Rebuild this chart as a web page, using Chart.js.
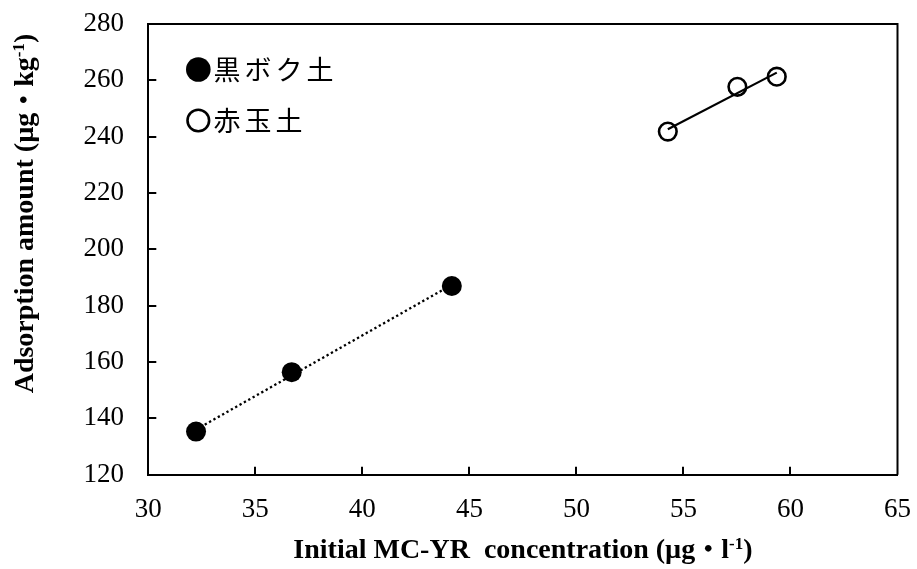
<!DOCTYPE html>
<html>
<head>
<meta charset="utf-8">
<script src="https://cdn.jsdelivr.net/npm/chart.js@4"></script>
<style>
  html, body { margin: 0; padding: 0; background: #fff; }
  #wrap { width: 917px; height: 569px; }
</style>
</head>
<body>
<div id="wrap"><canvas id="chart" width="917" height="569"></canvas></div>
<script>
// Soil types
const soilNames = ['黒ボク土', '赤玉土'];

// Initial MC-YR concentration (µg/l) and adsorption amount (µg/kg) per soil
const kurobokuConc = [32.23, 36.70, 44.18];
const kurobokuAds  = [135.3, 156.4, 187.0];
const akadamaConc  = [54.27, 57.52, 59.36];
const akadamaAds   = [241.8, 257.7, 261.3];

// Axis tick values
const xTickValues = [30, 35, 40, 45, 50, 55, 60, 65];
const yTickValues = [120, 140, 160, 180, 200, 220, 240, 260, 280];

const SERIF = '"Times New Roman", "Liberation Serif", serif';
const GOTHIC = '"Noto Sans CJK JP", "Noto Sans", sans-serif';

function toPoints(xs, ys) {
  return xs.map((x, i) => ({ x: x, y: ys[i] }));
}

// Linear least-squares trend line spanning the measured x range
function trendLine(xs, ys) {
  const n = xs.length;
  const mx = xs.reduce((a, b) => a + b, 0) / n;
  const my = ys.reduce((a, b) => a + b, 0) / n;
  let sxy = 0, sxx = 0;
  for (let i = 0; i < n; i++) {
    sxy += (xs[i] - mx) * (ys[i] - my);
    sxx += (xs[i] - mx) * (xs[i] - mx);
  }
  const slope = sxy / sxx;
  const x0 = Math.min(...xs), x1 = Math.max(...xs);
  return [
    { x: x0, y: my + slope * (x0 - mx) },
    { x: x1, y: my + slope * (x1 - mx) }
  ];
}

// Frame on the top and right, plus inward tick marks on both axes
const framePlugin = {
  id: 'frame',
  afterDraw(chart) {
    const { ctx, chartArea: a, scales } = chart;
    const tick = 8;
    ctx.save();
    ctx.strokeStyle = '#000';
    ctx.lineWidth = 2;
    ctx.beginPath();
    ctx.moveTo(a.left, a.top);
    ctx.lineTo(a.right, a.top);
    ctx.lineTo(a.right, a.bottom);
    scales.x.ticks.forEach(t => {
      const px = Math.round(scales.x.getPixelForValue(t.value));
      if (px <= a.left + 1 || px >= a.right - 1) return;
      ctx.moveTo(px, a.bottom);
      ctx.lineTo(px, a.bottom - tick);
    });
    scales.y.ticks.forEach(t => {
      const py = Math.round(scales.y.getPixelForValue(t.value));
      if (py >= a.bottom - 1 || py <= a.top + 1) return;
      ctx.moveTo(a.left, py);
      ctx.lineTo(a.left + tick, py);
    });
    ctx.stroke();
    ctx.restore();
  }
};

// Legend inside the plot, upper left
const legendPlugin = {
  id: 'insideLegend',
  afterDraw(chart) {
    const ctx = chart.ctx;
    const rows = [
      { ds: chart.data.datasets[0], y: 69.5 },
      { ds: chart.data.datasets[1], y: 120.5 }
    ];
    ctx.save();
    rows.forEach(r => {
      const mx = 198.3;
      ctx.beginPath();
      if (r.ds.borderWidth > 0) {
        ctx.arc(mx, r.y, 10.8, 0, Math.PI * 2);
        ctx.lineWidth = 2.6;
        ctx.strokeStyle = r.ds.borderColor;
        ctx.stroke();
      } else {
        ctx.arc(mx, r.y, 12.3, 0, Math.PI * 2);
        ctx.fillStyle = r.ds.backgroundColor;
        ctx.fill();
      }
      ctx.fillStyle = '#000';
      ctx.font = '27px ' + GOTHIC;
      ctx.letterSpacing = '4px';
      ctx.textAlign = 'left';
      ctx.textBaseline = 'middle';
      ctx.fillText(r.ds.label, 213.5, r.y);
    });
    ctx.restore();
  }
};

// Axis titles with superscript units
function drawRich(ctx, parts, cx, baseline, angle) {
  ctx.save();
  ctx.translate(cx, baseline);
  ctx.rotate(angle);
  ctx.fillStyle = '#000';
  ctx.textAlign = 'left';
  ctx.textBaseline = 'alphabetic';
  let total = 0;
  parts.forEach(p => { ctx.font = p.font; p.w = ctx.measureText(p.text).width; total += p.w; });
  let x = -total / 2;
  parts.forEach(p => {
    ctx.font = p.font;
    ctx.fillText(p.text, x, -(p.rise || 0));
    x += p.w;
  });
  ctx.restore();
}

const titleFont = 'bold 28px ' + SERIF;
const supFont = 'bold 17px ' + SERIF;
const dotFont = 'bold 26px ' + GOTHIC;

const titlePlugin = {
  id: 'axisTitles',
  afterDraw(chart) {
    const ctx = chart.ctx;
    const a = chart.chartArea;
    drawRich(ctx, [
      { text: 'Initial MC-YR  concentration (µg', font: titleFont },
      { text: '・', font: dotFont },
      { text: 'l', font: titleFont },
      { text: '-1', font: supFont, rise: 9 },
      { text: ')', font: titleFont }
    ], (a.left + a.right) / 2, 558, 0);
    drawRich(ctx, [
      { text: 'Adsorption amount (µg', font: titleFont },
      { text: '・', font: dotFont },
      { text: 'kg', font: titleFont },
      { text: '-1', font: supFont, rise: 9 },
      { text: ')', font: titleFont }
    ], 33, 213.5, -Math.PI / 2);
  }
};

const tickFont = { family: SERIF, size: 27, weight: 'normal' };

function noOverflowPadding(scale) {
  scale.paddingLeft = 0;
  scale.paddingRight = 0;
  scale.paddingTop = 0;
  scale.paddingBottom = 0;
}

new Chart(document.getElementById('chart'), {
  type: 'scatter',
  data: {
    datasets: [
      {
        label: soilNames[0],
        data: toPoints(kurobokuConc, kurobokuAds),
        pointRadius: 10,
        pointHoverRadius: 10,
        backgroundColor: '#000',
        borderColor: '#000',
        borderWidth: 0,
        order: 0
      },
      {
        label: soilNames[1],
        data: toPoints(akadamaConc, akadamaAds),
        pointRadius: 8.8,
        pointHoverRadius: 8.8,
        backgroundColor: 'rgba(0,0,0,0)',
        borderColor: '#000',
        borderWidth: 2.6,
        order: 0
      },
      {
        label: soilNames[0] + ' trend',
        type: 'line',
        data: trendLine(kurobokuConc, kurobokuAds),
        borderColor: '#000',
        borderWidth: 2.3,
        borderDash: [2.3, 2.7],
        pointRadius: 0,
        fill: false,
        order: 1
      },
      {
        label: soilNames[1] + ' trend',
        type: 'line',
        data: trendLine(akadamaConc, akadamaAds),
        borderColor: '#000',
        borderWidth: 2.2,
        pointRadius: 0,
        fill: false,
        order: 1
      }
    ]
  },
  options: {
    responsive: false,
    animation: false,
    devicePixelRatio: 1,
    layout: { padding: { top: 24, right: 19.5, left: 0, bottom: 0 } },
    plugins: {
      legend: { display: false },
      tooltip: { enabled: false }
    },
    scales: {
      x: {
        type: 'linear',
        min: 30,
        max: 65,
        afterBuildTicks(scale) { scale.ticks = xTickValues.map(v => ({ value: v })); },
        afterFit(scale) { scale.height = 94.3; noOverflowPadding(scale); },
        grid: { drawOnChartArea: false, drawTicks: false },
        border: { display: true, color: '#000', width: 2 },
        ticks: { color: '#000', font: tickFont, padding: 18.8, maxRotation: 0, autoSkip: false }
      },
      y: {
        type: 'linear',
        min: 120,
        max: 280,
        afterBuildTicks(scale) { scale.ticks = yTickValues.map(v => ({ value: v })); },
        afterFit(scale) { scale.width = 148.3; noOverflowPadding(scale); },
        grid: { drawOnChartArea: false, drawTicks: false },
        border: { display: true, color: '#000', width: 2 },
        ticks: { color: '#000', font: tickFont, padding: 24.3, autoSkip: false }
      }
    }
  },
  plugins: [framePlugin, legendPlugin, titlePlugin]
});
</script>
</body>
</html>
